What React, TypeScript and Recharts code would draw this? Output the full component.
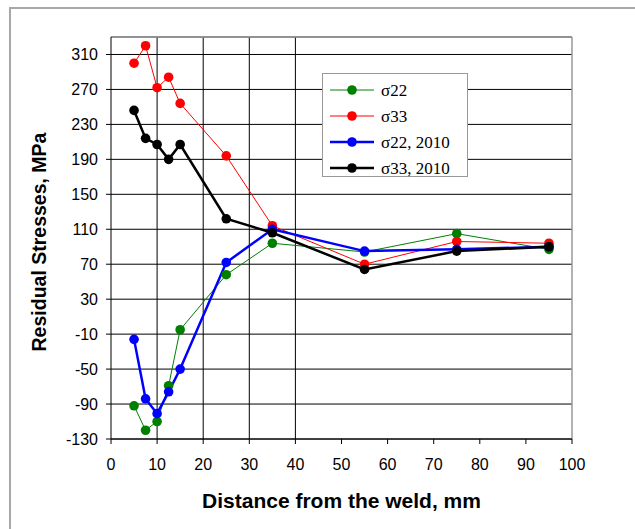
import React from 'react';
import { LineChart, Line, XAxis, YAxis, CartesianGrid, ReferenceLine, Legend, Label } from 'recharts';

const distance = [5, 7.5, 10, 12.5, 15, 25, 35, 55, 75, 95];
const sigma22 = [-92, -120, -110, -69, -5, 58, 94, 84, 105, 87];
const sigma33 = [300, 320, 272, 284, 254, 194, 114, 70, 96, 94];
const sigma22_2010 = [-16, -84, -101, -76, -50, 72, 110, 85, 87, 90];
const sigma33_2010 = [246, 214, 207, 190, 207, 122, 106, 64, 85, 90];

const seriesKeys = ['s22', 's33', 's22b', 's33b'];
const seriesNames = ['σ22', 'σ33', 'σ22, 2010', 'σ33, 2010'];
const seriesColors = ['#008000', '#ff0000', '#0000ff', '#000000'];
const seriesWidths = [1, 1, 2.5, 2.5];

const xTicks = [0, 10, 20, 30, 40, 50, 60, 70, 80, 90, 100];
const yTicks = [-130, -90, -50, -10, 30, 70, 110, 150, 190, 230, 270, 310];
const xGridLines = [10, 20, 30, 40];

const data = distance.map((d, i) => ({
  d,
  s22: sigma22[i],
  s33: sigma33[i],
  s22b: sigma22_2010[i],
  s33b: sigma33_2010[i],
}));

const sans = '"Liberation Sans", Arial, sans-serif';
const serif = '"Liberation Serif", "Times New Roman", serif';

const LegendBox = () => (
  <div
    style={{
      border: '1.5px solid #999',
      background: '#fff',
      width: 146,
      height: 104,
      boxSizing: 'border-box',
      paddingTop: 3,
    }}
  >
    {seriesNames.map((n, i) => (
      <div key={n} style={{ display: 'flex', alignItems: 'center', height: 26 }}>
        <svg width={52} height={14} style={{ marginLeft: 6 }}>
          <line x1={1} x2={45} y1={7} y2={7} stroke={seriesColors[i]} strokeWidth={seriesWidths[i]} />
          <circle cx={23} cy={7} r={4.8} fill={seriesColors[i]} />
        </svg>
        <span style={{ fontFamily: serif, fontSize: 17, color: '#000', lineHeight: '17px' }}>{n}</span>
      </div>
    ))}
  </div>
);

export default function App() {
  return (
    <div style={{ position: 'absolute', left: 0, top: 0, width: 635, height: 529, overflow: 'hidden', background: '#fff' }}>
      <div
        style={{
          position: 'absolute',
          left: 9,
          top: 7,
          width: 700,
          height: 600,
          border: '2px solid #a8a8a8',
        }}
      />
      <div style={{ position: 'absolute', left: 0, top: 0 }}>
        <LineChart width={635} height={529} data={data} margin={{ top: 37, right: 63, bottom: 30, left: 0 }}>
          <CartesianGrid vertical={false} horizontal={true} stroke="#000" strokeWidth={1} />
          {xGridLines.map((x) => (
            <ReferenceLine key={x} x={x} stroke="#000" strokeWidth={1} />
          ))}
          <ReferenceLine y={330} stroke="#999" strokeWidth={1.5} />
          <ReferenceLine x={100} stroke="#999" strokeWidth={1.5} />
          <XAxis
            dataKey="d"
            type="number"
            domain={[0, 100]}
            ticks={xTicks}
            interval={0}
            height={60}
            stroke="#000"
            tickSize={5}
            tickMargin={15}
            tick={{ fill: '#000', fontSize: 16, fontFamily: sans }}
            allowDataOverflow
          >
            <Label
              content={(props: any) => {
                const vb = props.viewBox;
                return (
                  <text
                    x={vb.x + vb.width / 2}
                    y={vb.y + 61}
                    textAnchor="middle"
                    dominantBaseline="central"
                    fontFamily={sans}
                    fontWeight="bold"
                    fontSize={21}
                    fill="#000"
                  >
                    Distance from the weld, mm
                  </text>
                );
              }}
            />
          </XAxis>
          <YAxis
            type="number"
            domain={[-130, 330]}
            ticks={yTicks}
            interval={0}
            width={111}
            stroke="#000"
            tickSize={5}
            tickMargin={8}
            tick={{ fill: '#000', fontSize: 16, fontFamily: sans }}
            allowDataOverflow
          >
            <Label
              content={(props: any) => {
                const vb = props.viewBox;
                const cx = vb.x + 38.5;
                const cy = vb.y + vb.height / 2 + 4;
                return (
                  <text
                    x={cx}
                    y={cy}
                    transform={`rotate(-90 ${cx} ${cy})`}
                    textAnchor="middle"
                    dominantBaseline="central"
                    fontFamily={sans}
                    fontWeight="bold"
                    fontSize={19.5}
                    fill="#000"
                  >
                    Residual Stresses, MPa
                  </text>
                );
              }}
            />
          </YAxis>
          <Legend
            layout="vertical"
            align="center"
            verticalAlign="middle"
            content={() => <LegendBox />}
            wrapperStyle={{ position: 'absolute', left: 322, top: 73, width: 146, height: 104 }}
          />
          {seriesKeys.map((k, i) => (
            <Line
              key={k}
              dataKey={k}
              name={seriesNames[i]}
              stroke={seriesColors[i]}
              strokeWidth={seriesWidths[i]}
              dot={{ r: 4.8, fill: seriesColors[i], stroke: seriesColors[i], strokeWidth: 0 }}
              activeDot={false}
              isAnimationActive={false}
            />
          ))}
        </LineChart>
      </div>
    </div>
  );
}
